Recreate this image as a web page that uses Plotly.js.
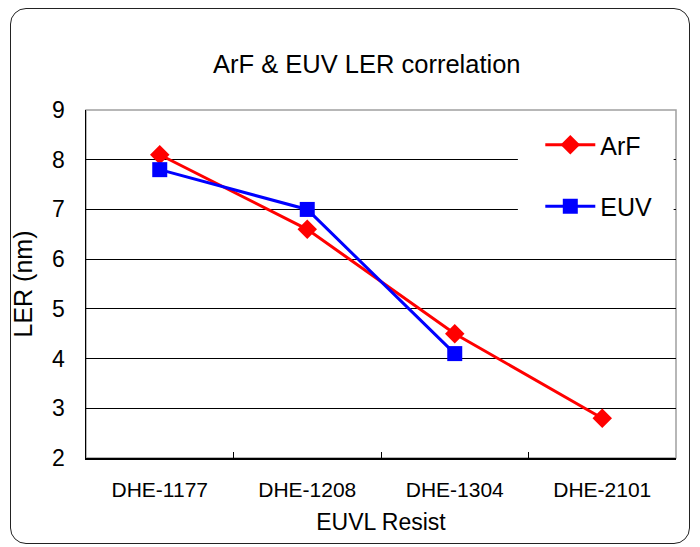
<!DOCTYPE html>
<html><head><meta charset="utf-8">
<script src="https://cdn.plot.ly/plotly-3.0.1.min.js"></script>
<style>
html,body{margin:0;padding:0;background:#fff;}
#wrap{position:relative;width:700px;height:547px;}
#chart{width:700px;height:547px;}
#frame{position:absolute;left:10px;top:8px;width:680px;height:536px;border:1.5px solid #222;border-radius:16px;pointer-events:none;box-sizing:border-box;}
</style>
</head><body>
<div id="wrap"><div id="chart"></div><div id="frame"></div></div>
<script>
const categories = ["DHE-1177", "DHE-1208", "DHE-1304", "DHE-2101"];
const arfValues = [8.1, 6.6, 4.5, 2.8];
const euvCategories = ["DHE-1177", "DHE-1208", "DHE-1304"];
const euvValues = [7.8, 7.0, 4.1];
const yTicks = [2, 3, 4, 5, 6, 7, 8, 9];

const font = "Liberation Sans, Arial, sans-serif";
const traces = [
  {x: categories, y: arfValues, name: "ArF", type: "scatter", mode: "lines+markers",
   line: {color: "#ff0000", width: 3}, marker: {symbol: "diamond", size: 15, color: "#ff0000"},
   legendgroup: "a"},
  {x: euvCategories, y: euvValues, name: "EUV", type: "scatter", mode: "lines+markers",
   line: {color: "#0000ff", width: 3}, marker: {symbol: "square", size: 15, color: "#0000ff"},
   legendgroup: "b"}
];
const layout = {
  width: 700, height: 547,
  margin: {l: 86, r: 24, t: 110, b: 89},
  paper_bgcolor: "#fff", plot_bgcolor: "#fff",
  font: {family: font, color: "#000"},
  title: {text: "ArF & EUV LER correlation", font: {size: 25.5, family: font, color: "#000"},
          x: 0.524, xanchor: "center", xref: "container", y: 0.883, yanchor: "middle", yref: "container"},
  xaxis: {type: "category", categoryarray: categories, range: [-0.5, 3.5],
          tickson: "boundaries", ticks: "inside", ticklen: 6, tickcolor: "#000",
          showgrid: false, showline: true, linecolor: "#000", linewidth: 1.5,
          tickfont: {size: 21, family: font}, zeroline: false, ticklabelstandoff: 12,
          title: {text: "EUVL Resist", font: {size: 23, family: font}, standoff: 14}},
  yaxis: {range: [2, 9], tickvals: yTicks, ticktext: yTicks.map(String),
          showgrid: true, gridcolor: "#000", gridwidth: 1,
          showline: true, linecolor: "#000", linewidth: 1.5, ticks: "", zeroline: false,
          tickfont: {size: 23, family: font}, ticklabelstandoff: 15,
          title: {text: "LER (nm)", font: {size: 25, family: font}, standoff: 12}},
  shapes: [
    {type: "rect", xref: "paper", yref: "paper", x0: 0, x1: 1, y0: 0, y1: 1,
     line: {color: "#a0a0a0", width: 1.5}, layer: "below"},
    {type: "rect", xref: "paper", yref: "y", x0: 0.732, x1: 0.996, y0: 6.6, y1: 8.9,
     fillcolor: "#fff", line: {width: 0}, layer: "above"}
  ],
  legend: {x: 0.77, y: 0.9655, xanchor: "left", yanchor: "top", bgcolor: "rgba(0,0,0,0)",
           borderwidth: 0, font: {size: 25, family: font}, tracegroupgap: 26,
           itemwidth: 50},
  showlegend: true
};
Plotly.newPlot("chart", traces, layout, {displayModeBar: false, staticPlot: true});
</script>
</body></html>
